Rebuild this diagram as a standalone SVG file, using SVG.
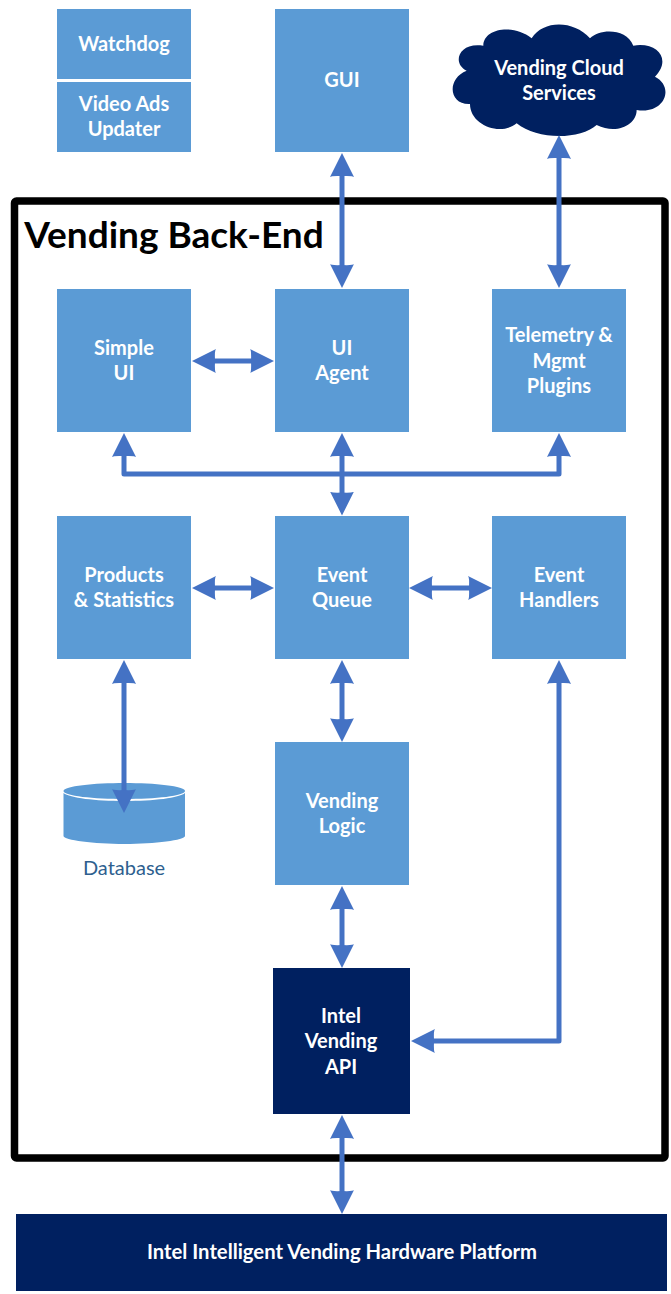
<svg xmlns="http://www.w3.org/2000/svg" width="671" height="1294" viewBox="0 0 671 1294">
<style>
text{font-family:Lato,"Liberation Sans",sans-serif;font-weight:700;fill:#fff;text-anchor:middle;font-size:20px}
.b{fill:#5b9bd5}
.d{fill:#002060}
.c{fill:none;stroke:#4472c4;stroke-width:5}
</style>
<defs>
<marker id="a" markerUnits="userSpaceOnUse" markerWidth="26" markerHeight="26" viewBox="0 0 26 26" refX="12" refY="13" orient="auto-start-reverse">
<path d="M0,1 Q1.500,2 1,13 Q1.500,24 0,25 L24,13Z" fill="#4472c4"/>
</marker>
</defs>
<rect id="frame" x="14.500" y="201" width="650.500" height="957" rx="2" fill="#fff" stroke="#000" stroke-width="7.500"/>
<text x="174" y="248" style="font-size:37px;fill:#000">Vending Back-End</text>
<g id="watchdog"><rect class="b" x="57" y="9" width="134" height="70"/><text x="124" y="51">Watchdog</text></g>
<g id="video-ads"><rect class="b" x="57" y="82" width="134" height="70"/><text x="124" y="111">Video Ads</text><text x="124" y="136">Updater</text></g>
<g id="gui"><rect class="b" x="275" y="9" width="134" height="143"/><text x="342" y="87">GUI</text></g>
<g id="cloud"><path class="d" transform="translate(440,0) scale(.3333)" d="M80,212 C20,235 25,315 90,312 C90,375 180,410 230,370 C290,420 420,420 470,375 C530,405 590,375 590,330 C675,345 705,260 645,230 C695,180 655,125 580,137 C560,85 480,85 450,115 C400,60 310,60 275,115 C220,70 130,85 130,137 C55,125 35,190 80,212Z"/><text x="559" y="75">Vending Cloud</text><text x="559" y="100">Services</text></g>
<g id="simple-ui"><rect class="b" x="57" y="289" width="134" height="143"/><text x="124" y="355">Simple</text><text x="124" y="380">UI</text></g>
<g id="ui-agent"><rect class="b" x="275" y="289" width="134" height="143"/><text x="342" y="355">UI</text><text x="342" y="380">Agent</text></g>
<g id="telemetry"><rect class="b" x="492" y="289" width="134" height="143"/><text x="559" y="342">Telemetry &amp;</text><text x="559" y="368">Mgmt</text><text x="559" y="393">Plugins</text></g>
<g id="products"><rect class="b" x="57" y="516" width="134" height="143"/><text x="124" y="582">Products</text><text x="124" y="607">&amp; Statistics</text></g>
<g id="event-queue"><rect class="b" x="275" y="516" width="134" height="143"/><text x="342" y="582">Event</text><text x="342" y="607">Queue</text></g>
<g id="event-handlers"><rect class="b" x="492" y="516" width="134" height="143"/><text x="559" y="582">Event</text><text x="559" y="607">Handlers</text></g>
<g id="vending-logic"><rect class="b" x="275" y="742" width="134" height="143"/><text x="342" y="808">Vending</text><text x="342" y="833">Logic</text></g>
<g id="database"><path class="b" d="M63.500,791 C63.500,786 94,783 124.500,783 C155,783 185,786 185,791 C185,796 155,799 124.500,799 C94,799 63.500,796 63.500,791Z"/><path class="b" d="M63.500,793 C70,798 95,801 124.500,801 C154,801 179,798 185,793 V836 C185,840 155,844 124.500,844 C94,844 63.500,840 63.500,836Z"/><text x="124" y="875" style="font-weight:400;fill:#2e5f8f">Database</text></g>
<g id="intel-api"><rect class="d" x="273" y="968" width="137" height="146"/><text x="341" y="1023">Intel</text><text x="341" y="1048">Vending</text><text x="341" y="1074">API</text></g>
<g id="platform"><rect class="d" x="16" y="1214" width="651" height="77"/><text x="342" y="1259" style="font-size:20.250px">Intel Intelligent Vending Hardware Platform</text></g>
<g id="connectors">
<path class="c" marker-start="url(#a)" marker-end="url(#a)" d="M342,165 V276"/>
<path class="c" marker-start="url(#a)" marker-end="url(#a)" d="M559,147 V276"/>
<path class="c" marker-start="url(#a)" marker-end="url(#a)" d="M204,361 H262"/>
<path class="c" stroke-linejoin="round" marker-start="url(#a)" marker-end="url(#a)" d="M124,445 V474 H559 V445"/>
<path class="c" marker-start="url(#a)" marker-end="url(#a)" d="M342,445 V503.500"/>
<path class="c" marker-start="url(#a)" marker-end="url(#a)" d="M204,588 H262"/>
<path class="c" marker-start="url(#a)" marker-end="url(#a)" d="M421,588 H480"/>
<path class="c" marker-start="url(#a)" marker-end="url(#a)" d="M124,672 V801"/>
<path class="c" marker-start="url(#a)" marker-end="url(#a)" d="M342,672 V730"/>
<path class="c" marker-start="url(#a)" marker-end="url(#a)" d="M342,898 V956"/>
<path class="c" stroke-linejoin="round" marker-start="url(#a)" marker-end="url(#a)" d="M559,672 V1041 H423"/>
<path class="c" marker-start="url(#a)" marker-end="url(#a)" d="M342,1127 V1202"/>
</g>
</svg>
